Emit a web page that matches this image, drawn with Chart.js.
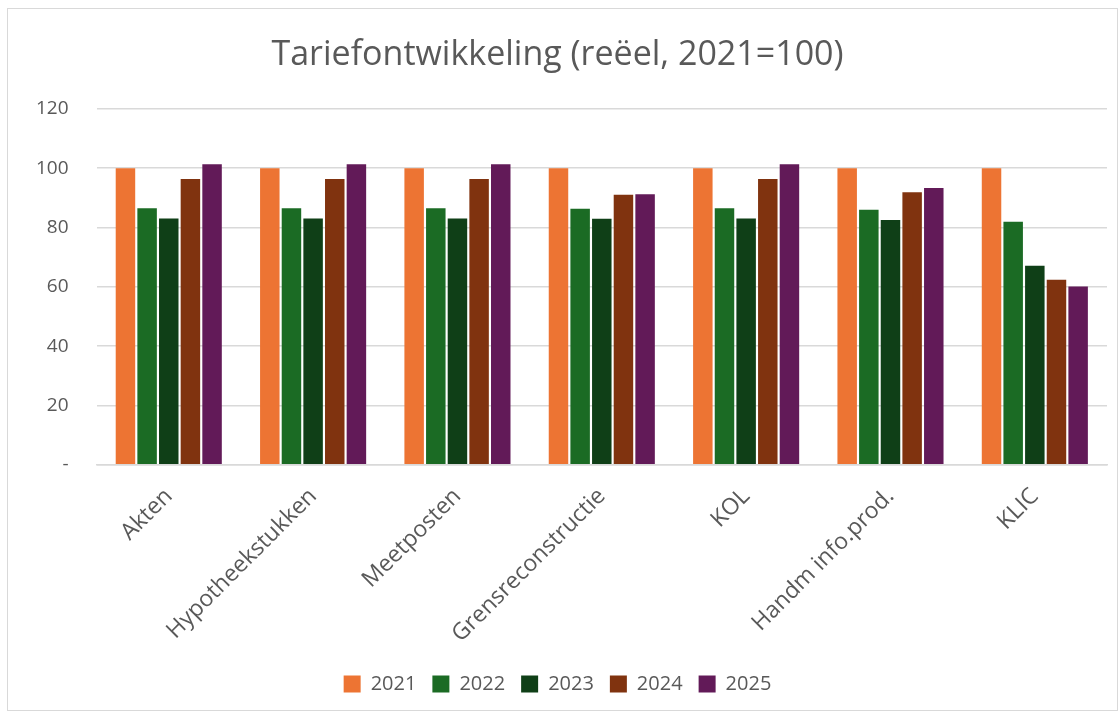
<!DOCTYPE html>
<html>
<head>
<meta charset="utf-8">
<script src="https://cdn.jsdelivr.net/npm/chart.js@4"></script>
<style>
  body { margin: 0; background: #fff; }
  #wrap { position: absolute; left: 7px; top: 8px; width: 1111px; height: 703px; border: 1px solid #d9d9d9; box-sizing: border-box; }
  #myChart { display: block; }
</style>
</head>
<body>
<div id="wrap"><canvas id="myChart" width="1109" height="701"></canvas></div>
<script>
const categories = ['Akten', 'Hypotheekstukken', 'Meetposten', 'Grensreconstructie', 'KOL', 'Handm info.prod.', 'KLIC'];
const years = ['2021', '2022', '2023', '2024', '2025'];
const v2021 = [100, 100, 100, 100, 100, 100, 100];
const v2022 = [86.5, 86.5, 86.5, 86.3, 86.5, 86.0, 81.9];
const v2023 = [83.0, 83.0, 83.0, 82.9, 83.0, 82.5, 67.1];
const v2024 = [96.3, 96.3, 96.3, 91.0, 96.3, 91.9, 62.4];
const v2025 = [101.3, 101.3, 101.3, 91.2, 101.3, 93.3, 60.1];
const yTicks = [0, 20, 40, 60, 80, 100, 120];
const colors = ['#ed7433', '#1b6b24', '#0f3f17', '#80330f', '#621a58'];

const allValues = [v2021, v2022, v2023, v2024, v2025];
const textColor = '#595959';
const fontName = '"Open Sans", Arial';

const ctx = document.getElementById('myChart');
let myChart = new Chart(ctx, {
  type: 'bar',
  data: {
    labels: categories,
    datasets: years.map((y, i) => ({
      label: y,
      data: allValues[i],
      backgroundColor: colors[i],
      borderWidth: 0,
      barPercentage: 0.9,
      categoryPercentage: 0.75
    }))
  },
  options: {
    responsive: false,
    animation: false,
    layout: { padding: { left: 0, right: 10, top: 8, bottom: 6 } },
    plugins: {
      title: {
        display: true,
        text: 'Tariefontwikkeling (reëel, 2021=100)',
        color: textColor,
        font: { family: fontName, size: 34, weight: 'normal' },
        padding: { top: 18, bottom: 33 }
      },
      legend: {
        position: 'bottom',
        labels: {
          color: textColor,
          font: { family: fontName, size: 20 },
          boxWidth: 17,
          boxHeight: 17,
          padding: 16
        }
      },
      tooltip: { enabled: false }
    },
    scales: {
      y: {
        min: 0,
        max: 120,
        afterBuildTicks: (axis) => { axis.ticks = yTicks.map(v => ({ value: v })); },
        ticks: {
          color: textColor,
          font: { family: fontName, size: 19 },
          padding: 28,
          callback: (v) => v === 0 ? '-' : v
        },
        grid: { color: '#d9d9d9', lineWidth: 1.5, drawTicks: false },
        border: { display: false }
      },
      x: {
        ticks: {
          color: textColor,
          font: { family: fontName, size: 23 },
          minRotation: 45,
          maxRotation: 45,
          padding: 10
        },
        grid: { display: false },
        border: { display: true, color: '#d9d9d9', width: 1.5 }
      }
    }
  }
});
</script>
</body>
</html>
